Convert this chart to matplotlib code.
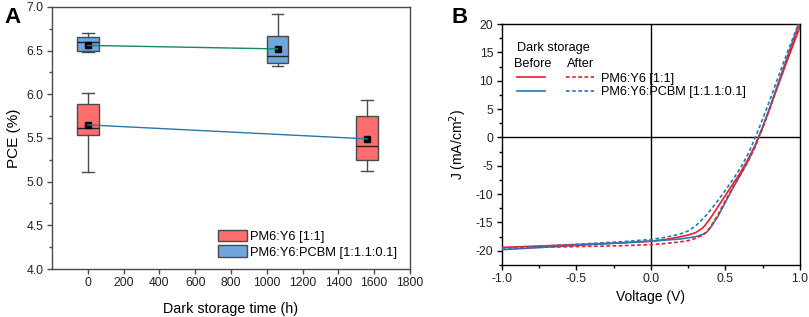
import matplotlib
matplotlib.use("Agg")
import matplotlib.pyplot as plt
from matplotlib.ticker import MultipleLocator, FormatStrFormatter, FixedLocator
from matplotlib.patches import Patch

plt.rcParams['font.family'] = ['Liberation Sans', 'DejaVu Sans']
plt.rcParams['axes.unicode_minus'] = False

# ---------------- Panel A data ----------------
red_label = "PM6:Y6 [1:1]"
blue_label = "PM6:Y6:PCBM [1:1.1:0.1]"

red_pos = [0, 1560]
red_whislo = [5.11, 5.12]
red_q1 = [5.53, 5.25]
red_med = [5.62, 5.41]
red_q3 = [5.89, 5.75]
red_whishi = [6.01, 5.94]
red_mean = [5.65, 5.49]

blue_pos = [0, 1060]
blue_whislo = [6.48, 6.32]
blue_q1 = [6.50, 6.36]
blue_med = [6.60, 6.44]
blue_q3 = [6.66, 6.67]
blue_whishi = [6.70, 6.92]
blue_mean = [6.56, 6.52]

time_ticks = [0, 200, 400, 600, 800, 1000, 1200, 1400, 1600, 1800]

# ---------------- Panel B data ----------------
voltage = [-1.0, -0.8, -0.6, -0.4, -0.2, 0.0, 0.1, 0.2, 0.25, 0.3, 0.35, 0.375, 0.4, 0.45,
           0.5, 0.55, 0.6, 0.65, 0.7, 0.75, 0.8, 0.85, 0.9, 0.95, 1.0]
j_red_before = [-19.4, -19.2, -19.0, -18.8, -18.6, -18.3, -18.0, -17.5, -17.2, -16.8, -15.9,
                -15.1, -14.2, -12.2, -10.2, -8.2, -6.2, -3.9, -1.3, 1.9, 5.4, 9.0, 12.6, 16.1, 19.6]
j_red_after = [-19.5, -19.4, -19.3, -19.2, -19.1, -18.9, -18.7, -18.4, -18.2, -17.8, -17.2,
               -16.6, -15.8, -13.6, -11.1, -8.8, -6.6, -4.3, -1.6, 1.7, 5.4, 9.2, 12.9, 16.5, 20.1]
j_blue_before = [-19.8, -19.5, -19.2, -18.9, -18.6, -18.3, -18.1, -17.9, -17.7, -17.5, -17.1,
                 -16.7, -15.9, -13.9, -11.4, -8.9, -6.6, -4.2, -1.4, 1.8, 5.4, 9.3, 13.1, 16.9, 20.7]
j_blue_after = [-19.6, -19.3, -19.0, -18.7, -18.4, -18.0, -17.6, -17.0, -16.5, -15.6, -14.3,
                -13.6, -12.8, -11.1, -9.3, -7.4, -5.4, -3.0, 0.0, 3.3, 6.8, 10.4, 14.0, 17.4, 20.8]

RED_FILL = '#ff6e6e'
BLUE_FILL = '#6fa6dd'
RED_LINE = '#f01c24'
BLUE_LINE = '#2677b8'

fig = plt.figure(figsize=(8.09, 3.17), dpi=100)

# ================= Panel A =================
axA = fig.add_axes([0.0643, 0.1514, 0.4425, 0.8266])
gray = '#4a4a4a'

def make_stats(lo, q1, med, q3, hi, mean):
    return [dict(whislo=a, q1=b, med=c, q3=d, whishi=e, mean=f, fliers=[])
            for a, b, c, d, e, f in zip(lo, q1, med, q3, hi, mean)]

for pos, st, fill in [
    (red_pos, make_stats(red_whislo, red_q1, red_med, red_q3, red_whishi, red_mean), RED_FILL),
    (blue_pos, make_stats(blue_whislo, blue_q1, blue_med, blue_q3, blue_whishi, blue_mean), BLUE_FILL),
]:
    axA.bxp(st, positions=pos, widths=120, patch_artist=True, showmeans=True,
            showfliers=False, manage_ticks=False, capwidths=65,
            boxprops=dict(facecolor=fill, edgecolor=gray, linewidth=1.0),
            medianprops=dict(color='#222222', linewidth=1.0),
            whiskerprops=dict(color=gray, linewidth=1.0),
            capprops=dict(color=gray, linewidth=1.0),
            meanprops=dict(marker='s', markerfacecolor='black', markeredgecolor='black',
                           markersize=4))

axA.plot(blue_pos, blue_mean, color='#12876a', linewidth=1.0, zorder=5)
axA.plot(red_pos, red_mean, color='#2a78a4', linewidth=1.0, zorder=5)

axA.set_xlim(-200, 1800)
axA.set_ylim(4.0, 7.0)
axA.xaxis.set_major_locator(FixedLocator(time_ticks))
axA.yaxis.set_major_locator(MultipleLocator(0.5))
axA.yaxis.set_minor_locator(MultipleLocator(0.25))
axA.yaxis.set_major_formatter(FormatStrFormatter('%.1f'))
axA.tick_params(axis='both', which='major', direction='out', length=3.5, width=1,
                color=gray, labelsize=8.8, labelcolor='#222222', pad=2.5)
axA.tick_params(axis='y', which='minor', direction='out', length=2.2, width=1, color=gray)
for s in axA.spines.values():
    s.set_color(gray)
    s.set_linewidth(1.0)
axA.set_ylabel('PCE (%)', fontsize=11, labelpad=4)
axA.set_xlabel('Dark storage time (h)', fontsize=10.3, labelpad=9)

handlesA = [Patch(facecolor=RED_FILL, edgecolor=gray, linewidth=1.0),
            Patch(facecolor=BLUE_FILL, edgecolor=gray, linewidth=1.0)]
axA.legend(handlesA, [red_label, blue_label], loc='lower left', frameon=False,
           fontsize=9.25, handlelength=2.26, handleheight=1.0, handletextpad=0.25,
           labelspacing=0.2, borderaxespad=0.0, borderpad=0.0,
           bbox_to_anchor=(0.4637, 0.04))

fig.text(0.005, 0.978, 'A', fontsize=16, fontweight='bold', va='top', ha='left')

# ================= Panel B =================
axB = fig.add_axes([0.620, 0.164, 0.369, 0.760])
axB.axhline(0, color='black', linewidth=1.0, zorder=1)
axB.axvline(0, color='black', linewidth=1.0, zorder=1)

dash = (0, (2.2, 1.5))
l_rb, = axB.plot(voltage, j_red_before, color=RED_LINE, linewidth=1.2, zorder=3)
l_bb, = axB.plot(voltage, j_blue_before, color=BLUE_LINE, linewidth=1.2, zorder=3)
l_ra, = axB.plot(voltage, j_red_after, color=RED_LINE, linewidth=1.2, linestyle=dash, zorder=3)
l_ba, = axB.plot(voltage, j_blue_after, color=BLUE_LINE, linewidth=1.2, linestyle=dash, zorder=3)

axB.set_xlim(-1.0, 1.0)
axB.set_ylim(-22.5, 20)
axB.xaxis.set_major_locator(MultipleLocator(0.5))
axB.xaxis.set_minor_locator(MultipleLocator(0.25))
axB.yaxis.set_major_locator(MultipleLocator(5))
axB.yaxis.set_minor_locator(MultipleLocator(2.5))
axB.xaxis.set_major_formatter(FormatStrFormatter('%.1f'))
axB.tick_params(axis='both', which='major', direction='out', length=3.5, width=1,
                labelsize=8.8, labelcolor='#222222', pad=2.5)
axB.tick_params(axis='both', which='minor', direction='out', length=2.2, width=1)
for s in axB.spines.values():
    s.set_color('black')
    s.set_linewidth(1.0)
axB.set_xlabel('Voltage (V)', fontsize=10, labelpad=3)
axB.set_ylabel('J (mA/cm$^2$)', fontsize=10, labelpad=5)

axB.text(0.050, 0.900, 'Dark storage', transform=axB.transAxes, fontsize=9.2,
         va='center', ha='left')
axB.text(0.040, 0.834, 'Before', transform=axB.transAxes, fontsize=9.2,
         va='center', ha='left')
axB.text(0.218, 0.834, 'After', transform=axB.transAxes, fontsize=9.2,
         va='center', ha='left')

axB.legend([l_rb, l_bb, l_ra, l_ba], ['', '', red_label, blue_label],
           ncol=2, loc='upper left', frameon=False, fontsize=9.2,
           handlelength=2.2, handletextpad=0.55, columnspacing=1.1,
           labelspacing=0.12, borderaxespad=0.0, borderpad=0.0,
           bbox_to_anchor=(0.050, 0.798))

fig.text(0.558, 0.978, 'B', fontsize=16, fontweight='bold', va='top', ha='left')

fig.savefig('out.png', dpi=100)
